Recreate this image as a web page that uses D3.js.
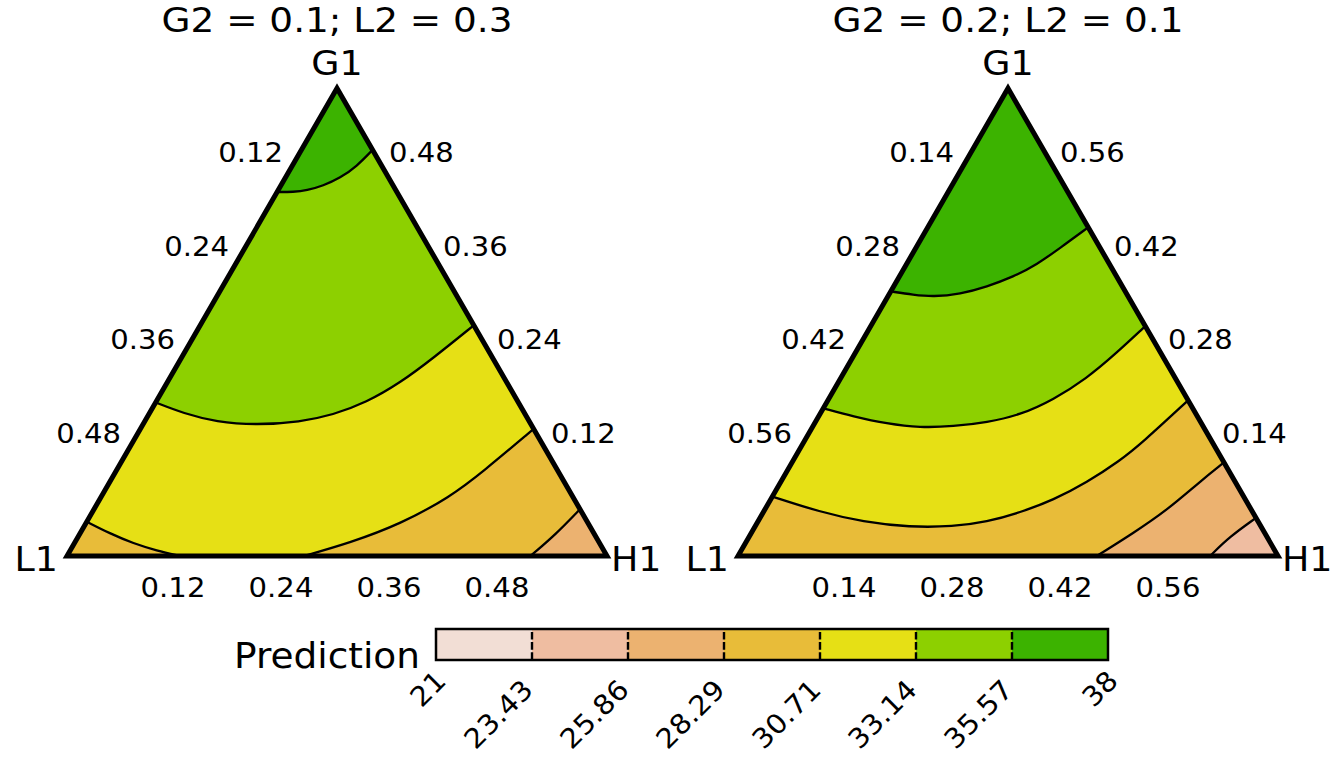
<!DOCTYPE html>
<html>
<head>
<meta charset="utf-8">
<script src="https://cdn.jsdelivr.net/npm/d3@7"></script>
<style>
  body { margin: 0; background: #fff; }
  svg { display: block; font-family: "DejaVu Sans", sans-serif; }
</style>
</head>
<body>
<div class="chart"></div>
<script>
// legend breaks (even steps) and the band colours between them, low -> high
const breaks = [21, 23.43, 25.86, 28.29, 30.71, 33.14, 35.57, 38];
const bandColors = ["#F2DED5", "#EFBDA1", "#ECB270", "#E8BC39", "#E6E015", "#8DD000", "#3CB300"];

// one panel per fixed G2 / L2 combination
const panelTitles = ["G2 = 0.1; L2 = 0.3", "G2 = 0.2; L2 = 0.1"];
const panelTotals = [0.6, 0.7];           // share left for G1 + H1 + L1
const panelTicks = [
  [0.12, 0.24, 0.36, 0.48],
  [0.14, 0.28, 0.42, 0.56],
];

// contour pieces, points are [G1, H1, L1]
const leftContours = [
  { level: 35.57, points: [[0.467, 0, 0.133], [0.467, 0.018, 0.115], [0.469, 0.032, 0.099], [0.475, 0.047, 0.078],
                           [0.485, 0.061, 0.054], [0.500, 0.072, 0.028], [0.521, 0.079, 0]] },
  { level: 33.14, points: [[0.197, 0, 0.403], [0.183, 0.038, 0.379], [0.172, 0.080, 0.348], [0.168, 0.127, 0.305],
                           [0.172, 0.173, 0.255], [0.181, 0.205, 0.214], [0.197, 0.234, 0.169], [0.222, 0.259, 0.119],
                           [0.254, 0.280, 0.066], [0.296, 0.304, 0]] },
  { level: 30.71, points: [[0.044, 0, 0.556], [0.029, 0.033, 0.538], [0.016, 0.066, 0.518], [0.007, 0.096, 0.497],
                           [0, 0.126, 0.474]] },
  { level: 30.71, points: [[0, 0.263, 0.337], [0.017, 0.306, 0.277], [0.041, 0.350, 0.209], [0.076, 0.388, 0.136],
                           [0.108, 0.408, 0.084], [0.163, 0.437, 0]] },
  { level: 28.29, points: [[0, 0.515, 0.085], [0.027, 0.529, 0.044], [0.060, 0.540, 0]] },
];

const rightContours = [
  { level: 35.57, points: [[0.396, 0, 0.304], [0.391, 0.032, 0.277], [0.388, 0.059, 0.253], [0.392, 0.092, 0.216],
                           [0.403, 0.121, 0.176], [0.418, 0.148, 0.134], [0.436, 0.169, 0.095], [0.461, 0.187, 0.052],
                           [0.492, 0.208, 0]] },
  { level: 33.14, points: [[0.221, 0, 0.479], [0.209, 0.045, 0.446], [0.198, 0.094, 0.408], [0.192, 0.140, 0.368],
                           [0.194, 0.182, 0.324], [0.200, 0.223, 0.277], [0.211, 0.260, 0.229], [0.234, 0.292, 0.174],
                           [0.266, 0.319, 0.115], [0.300, 0.337, 0.063], [0.344, 0.356, 0]] },
  { level: 30.71, points: [[0.089, 0, 0.611], [0.066, 0.073, 0.561], [0.051, 0.137, 0.512], [0.043, 0.201, 0.456],
                           [0.044, 0.257, 0.399], [0.051, 0.297, 0.352], [0.065, 0.333, 0.302], [0.084, 0.367, 0.249],
                           [0.110, 0.397, 0.193], [0.143, 0.424, 0.133], [0.169, 0.439, 0.092], [0.233, 0.467, 0]] },
  { level: 28.29, points: [[0, 0.465, 0.235], [0.034, 0.495, 0.171], [0.069, 0.522, 0.109], [0.111, 0.543, 0.046],
                           [0.140, 0.560, 0]] },
  { level: 25.86, points: [[0, 0.612, 0.088], [0.029, 0.623, 0.048], [0.057, 0.643, 0]] },
];

const panelContours = [leftContours, rightContours];

const dimensions = {
  width: 1344,
  height: 768,
  triWidth: 540,
  baseY: 556,
  panelX: [67, 738],
};
dimensions.triHeight = dimensions.triWidth * Math.sqrt(3) / 2;

// the reference glyphs run a bit wider than DejaVu at the same height
const stretch = 1.07;

const wrapper = d3.select(".chart")
  .append("svg")
  .attr("width", dimensions.width)
  .attr("height", dimensions.height);

function addText(g, x, y, str, size, anchor, baseline, sx) {
  return g.append("text")
    .attr("transform", `translate(${x},${y}) scale(${sx || stretch},1)`)
    .attr("text-anchor", anchor)
    .attr("dominant-baseline", baseline || "auto")
    .style("font-size", size + "px")
    .text(str);
}

function drawPanel(i) {
  const total = panelTotals[i];
  const x0 = dimensions.panelX[i];
  const contours = panelContours[i];

  // barycentric -> screen, through plain linear scales
  const xScale = d3.scaleLinear().domain([0, total]).range([x0, x0 + dimensions.triWidth]);
  const yScale = d3.scaleLinear().domain([0, total]).range([dimensions.baseY, dimensions.baseY - dimensions.triHeight]);
  const toXY = d => [xScale(d[1] + d[0] / 2), yScale(d[0])];

  const vG = [total, 0, 0], vH = [0, total, 0], vL = [0, 0, total];
  const triPath = "M" + [vL, vH, vG].map(v => toXY(v).join(",")).join("L") + "Z";

  const bounds = wrapper.append("g");

  bounds.append("clipPath")
    .attr("id", "tri" + i)
    .append("path")
    .attr("d", triPath);

  const fills = bounds.append("g").attr("clip-path", `url(#tri${i})`);

  const maxLevel = d3.max(contours, d => d.level);
  fills.append("path")
    .attr("d", triPath)
    .attr("fill", bandColors[breaks.indexOf(maxLevel)]);

  const curve = d3.line()
    .x(d => toXY(d)[0])
    .y(d => toXY(d)[1])
    .curve(d3.curveBasis);

  // position round the rim with G1 at 0/3, L1 at 1, H1 at 2
  const rimPos = p => {
    const [g, h, l] = p;
    const m = Math.min(g, h, l);
    if (m === h) return l / total;
    if (m === g) return 1 + h / total;
    return 2 + g / total;
  };
  const corners = [{ u: 1, p: vL }, { u: 2, p: vH }];

  // low side of a contour = the part cut off away from the G1 corner
  const lowSide = c => {
    const uS = rimPos(c.points[0]);
    const uE = rimPos(c.points[c.points.length - 1]);
    let between = corners.filter(k => k.u > Math.min(uS, uE) && k.u < Math.max(uS, uE));
    if (uE > uS) between = between.reverse();
    return curve(c.points) + between.map(k => "L" + toXY(k.p).join(",")).join("") + "Z";
  };

  const sorted = contours.slice().sort((a, b) => b.level - a.level);

  fills.selectAll(".band")
    .data(sorted)
    .enter().append("path")
    .attr("class", "band")
    .attr("d", lowSide)
    .attr("fill", d => bandColors[breaks.indexOf(d.level) - 1]);

  fills.selectAll(".contour")
    .data(sorted)
    .enter().append("path")
    .attr("class", "contour")
    .attr("d", d => curve(d.points))
    .attr("fill", "none")
    .attr("stroke", "black")
    .attr("stroke-width", 2.3);

  bounds.append("path")
    .attr("d", triPath)
    .attr("fill", "none")
    .attr("stroke", "black")
    .attr("stroke-width", 5)
    .attr("stroke-linejoin", "miter");

  const fmt = d3.format(".2f");
  const ticks = panelTicks[i];

  ticks.forEach(d => {
    // L1 axis on the left edge
    const pL = toXY([total - d, 0, d]);
    addText(bounds, pL[0], pL[1] - 29, fmt(d), 27.2, "end", "central");
    // G1 axis on the right edge
    const pG = toXY([d, total - d, 0]);
    addText(bounds, pG[0] - 2, pG[1] - 29, fmt(d), 27.2, "start", "central");
    // H1 axis along the bottom
    const pH = toXY([0, d, total - d]);
    addText(bounds, pH[0] - 2, dimensions.baseY + 32, fmt(d), 27.2, "middle", "central");
  });

  const apex = toXY(vG), left = toXY(vL), right = toXY(vH);

  addText(bounds, apex[0], apex[1] - 13, "G1", 34, "middle");
  addText(bounds, left[0] - 9, left[1] + 15, "L1", 34, "end");
  addText(bounds, right[0] + 4, right[1] + 15, "H1", 34, "start");
  addText(bounds, apex[0], 32, panelTitles[i], 34, "middle", "auto", 1.1);
}

drawPanel(0);
drawPanel(1);

// colour-steps legend
const legend = {
  x0: 436,
  x1: 1108,
  top: 629,
  height: 31,
};

const legendScale = d3.scalePoint()
  .domain(breaks)
  .range([legend.x0, legend.x1]);

const legendGroup = wrapper.append("g");

legendGroup.selectAll("rect")
  .data(bandColors)
  .enter().append("rect")
  .attr("x", (d, k) => legendScale(breaks[k]))
  .attr("y", legend.top)
  .attr("width", (d, k) => legendScale(breaks[k + 1]) - legendScale(breaks[k]))
  .attr("height", legend.height)
  .attr("fill", d => d);

legendGroup.selectAll(".divider")
  .data(breaks.slice(1, -1))
  .enter().append("line")
  .attr("class", "divider")
  .attr("x1", d => legendScale(d))
  .attr("x2", d => legendScale(d))
  .attr("y1", legend.top + legend.height)
  .attr("y2", legend.top)
  .attr("stroke", "black")
  .attr("stroke-width", 2.4)
  .attr("stroke-dasharray", "7.7 2.5");

legendGroup.append("rect")
  .attr("x", legend.x0)
  .attr("y", legend.top)
  .attr("width", legend.x1 - legend.x0)
  .attr("height", legend.height)
  .attr("fill", "none")
  .attr("stroke", "black")
  .attr("stroke-width", 2.5);

// rotated labels, pulled back along their baseline a little past their end
legendGroup.selectAll(".legendLabel")
  .data(breaks)
  .enter().append("text")
  .attr("class", "legendLabel")
  .attr("transform", d => `translate(${legendScale(d) + 19}, 675) rotate(-45) scale(${stretch},1)`)
  .attr("text-anchor", "end")
  .style("font-size", "27.2px")
  .text(d => String(d))
  .attr("x", function() { return -0.28 * this.getComputedTextLength(); });

addText(legendGroup, 420, 668, "Prediction", 35, "end");
</script>
</body>
</html>
